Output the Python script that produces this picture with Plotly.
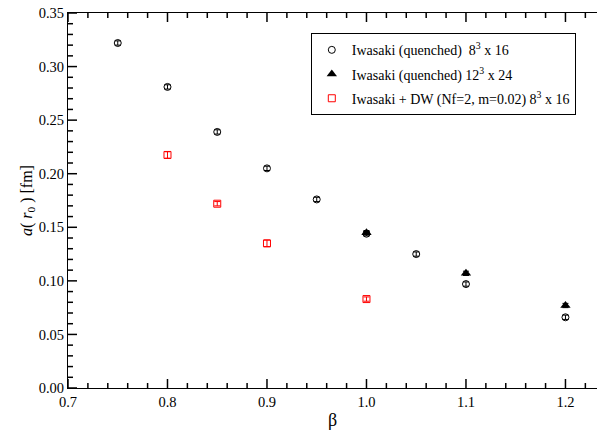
import plotly.graph_objects as go

# Iwasaki (quenched) 8^3 x 16
beta_q8 = [0.75, 0.80, 0.85, 0.90, 0.95, 1.00, 1.05, 1.10, 1.20]
a_q8 = [0.322, 0.281, 0.239, 0.205, 0.176, 0.144, 0.125, 0.097, 0.066]
err_q8 = [0.002, 0.002, 0.002, 0.002, 0.002, 0.002, 0.002, 0.002, 0.002]

# Iwasaki (quenched) 12^3 x 24
beta_q12 = [1.00, 1.10, 1.20]
a_q12 = [0.145, 0.107, 0.077]
err_q12 = [0.002, 0.002, 0.002]

# Iwasaki + DW (Nf=2, m=0.02) 8^3 x 16
beta_dw = [0.80, 0.85, 0.90, 1.00]
a_dw = [0.2175, 0.172, 0.135, 0.083]
err_dw = [0.003, 0.002, 0.003, 0.002]

yticks = [0.00, 0.05, 0.10, 0.15, 0.20, 0.25, 0.30, 0.35]
xticks = [0.7, 0.8, 0.9, 1.0, 1.1, 1.2]
x_minor_step = 0.02
y_minor_step = 0.01
x_range = [0.7, 1.2317]
y_range = [0.0, 0.35]

FONT = "Liberation Serif"
W, H = 597, 433
ML, MR, MT, MB = 68, 0, 13, 45
px_x = (W - ML - MR) / (x_range[1] - x_range[0])
px_y = (H - MT - MB) / (y_range[1] - y_range[0])
MAJ, MIN = 9, 5

fig = go.Figure()

tx, ty = [], []
n = 0
while True:
    t = round(x_range[0] + n * x_minor_step, 6)
    if t > x_range[1]:
        break
    L = (MAJ if any(abs(t - m) < 1e-9 for m in xticks) else MIN) / px_y
    tx += [t, t, None, t, t, None]
    ty += [y_range[0], y_range[0] + L, None, y_range[1], y_range[1] - L, None]
    n += 1
n = 0
while True:
    v = round(y_range[0] + n * y_minor_step, 6)
    if v > y_range[1] + 1e-9:
        break
    L = (MAJ if any(abs(v - m) < 1e-9 for m in yticks) else MIN) / px_x
    tx += [x_range[0], x_range[0] + L, None]
    ty += [v, v, None]
    n += 1
fig.add_trace(go.Scatter(x=tx, y=ty, mode="lines", line=dict(color="black", width=1.5),
                         showlegend=False, hoverinfo="skip", connectgaps=False))

fig.add_trace(go.Scatter(
    x=beta_q8, y=a_q8, mode="markers", legendgroup="a",
    name="Iwasaki (quenched)  8<sup>3</sup> x 16",
    marker=dict(symbol="circle-open", size=7, color="black", line=dict(width=1, color="black")),
    error_y=dict(type="data", array=err_q8, color="black", thickness=1, width=3),
))
fig.add_trace(go.Scatter(
    x=beta_q12, y=a_q12, mode="markers", legendgroup="b",
    name="Iwasaki (quenched) 12<sup>3</sup> x 24",
    marker=dict(symbol="triangle-up", size=9, color="black"),
    error_y=dict(type="data", array=err_q12, color="black", thickness=1, width=3),
))
fig.add_trace(go.Scatter(
    x=beta_dw, y=a_dw, mode="markers", legendgroup="c",
    name="Iwasaki + DW (Nf=2, m=0.02) 8<sup>3</sup> x 16",
    marker=dict(symbol="square-open", size=7, color="red", line=dict(width=1, color="red")),
    error_y=dict(type="data", array=err_dw, color="red", thickness=1, width=3),
))

fig.update_layout(
    width=W, height=H,
    margin=dict(l=ML, r=MR, t=MT, b=MB),
    paper_bgcolor="white", plot_bgcolor="white",
    font=dict(family=FONT, size=14, color="black"),
    showlegend=True,
    legend=dict(
        x=0.459, y=0.946, xanchor="left", yanchor="top",
        bordercolor="black", borderwidth=1, bgcolor="white",
        font=dict(family=FONT, size=14, color="black"),
        tracegroupgap=3,
    ),
    xaxis=dict(
        range=x_range, tickmode="array", tickvals=xticks,
        ticktext=[f"{v:.1f}" for v in xticks], ticks="",
        showline=True, linecolor="black", linewidth=1.2, mirror=True,
        showgrid=False, zeroline=False,
        title=dict(text="β", font=dict(family=FONT, size=18), standoff=4),
        tickfont=dict(family=FONT, size=14.5),
    ),
    yaxis=dict(
        range=y_range, tickmode="array", tickvals=yticks,
        ticktext=[f"{v:.2f}" for v in yticks], ticks="",
        showline=True, linecolor="black", linewidth=1.2, mirror=False,
        showgrid=False, zeroline=False,
        title=dict(text="<i>a</i>( <i>r</i><sub>0</sub> ) [fm]", font=dict(family=FONT, size=16), standoff=2),
        tickfont=dict(family=FONT, size=14.5),
    ),
)

fig.write_html("out.html", config={"displayModeBar": False},
               post_script="document.body.style.margin='0';document.body.style.padding='0';")
